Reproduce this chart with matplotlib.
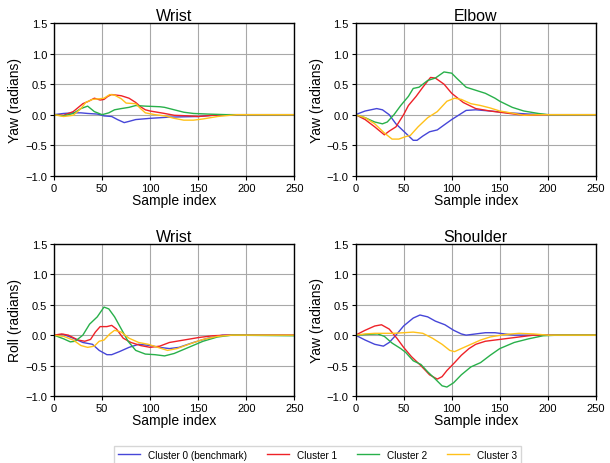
import matplotlib
matplotlib.use("Agg")
import matplotlib.pyplot as plt

plt.rcParams["font.family"] = ["Liberation Sans", "DejaVu Sans"]

cluster_names = ["Cluster 0 (benchmark)", "Cluster 1", "Cluster 2", "Cluster 3"]
cluster_colors = ["#4646d8", "#ee2228", "#28b04a", "#ffc11a"]

panel_titles = ["Wrist", "Elbow", "Wrist", "Shoulder"]
panel_ylabels = ["Yaw (radians)", "Yaw (radians)", "Roll (radians)", "Yaw (radians)"]

# ---- Wrist yaw (top left) ----
wrist_yaw_c0 = [(0, 0), (10, 0.02), (20, 0.03), (28, 0.03), (35, 0.02), (45, 0.01),
                (52, -0.02), (60, -0.03), (66, -0.08), (73, -0.13), (78, -0.11),
                (85, -0.08), (100, -0.06), (120, -0.04), (150, -0.03), (165, -0.01),
                (180, 0), (250, 0)]
wrist_yaw_c1 = [(0, 0), (10, -0.01), (20, 0.05), (30, 0.18), (36, 0.22), (42, 0.27),
                (48, 0.24), (52, 0.25), (56, 0.3), (60, 0.33), (65, 0.32), (70, 0.31),
                (78, 0.27), (85, 0.2), (90, 0.13), (95, 0.08), (100, 0.06), (115, 0.02),
                (125, -0.01), (140, -0.02), (150, -0.03), (165, -0.01), (180, 0), (250, 0)]
wrist_yaw_c2 = [(0, 0), (10, -0.02), (20, 0.02), (28, 0.1), (35, 0.14), (42, 0.05),
                (50, 0.0), (57, 0.03), (63, 0.08), (70, 0.1), (78, 0.12), (85, 0.15),
                (95, 0.14), (110, 0.13), (115, 0.12), (125, 0.08), (135, 0.04),
                (145, 0.02), (160, 0.01), (180, 0), (250, 0)]
wrist_yaw_c3 = [(0, 0), (10, -0.03), (20, -0.01), (28, 0.1), (33, 0.2), (40, 0.25),
                (47, 0.26), (52, 0.27), (58, 0.33), (63, 0.32), (70, 0.26), (75, 0.19),
                (85, 0.18), (90, 0.1), (95, 0.03), (105, 0.0), (115, -0.02), (125, -0.06),
                (135, -0.09), (145, -0.09), (155, -0.07), (170, -0.03), (190, 0), (250, 0)]

# ---- Elbow yaw (top right) ----
elbow_yaw_c0 = [(0, 0), (10, 0.06), (22, 0.1), (28, 0.08), (35, 0.0), (42, -0.15),
                (52, -0.3), (60, -0.42), (64, -0.42), (70, -0.35), (77, -0.28),
                (85, -0.25), (92, -0.17), (100, -0.08), (108, 0.0), (115, 0.07),
                (125, 0.08), (140, 0.06), (160, 0.03), (180, 0.01), (200, 0), (250, 0)]
elbow_yaw_c1 = [(0, 0), (10, -0.08), (20, -0.2), (30, -0.33), (35, -0.27), (42, -0.2),
                (50, 0.0), (55, 0.15), (63, 0.3), (70, 0.45), (78, 0.61), (83, 0.6),
                (92, 0.5), (100, 0.35), (112, 0.2), (125, 0.1), (140, 0.06), (155, 0.03),
                (170, 0.0), (180, -0.01), (195, 0), (250, 0)]
elbow_yaw_c2 = [(0, 0), (10, -0.05), (20, -0.12), (28, -0.15), (33, -0.12), (40, 0.0),
                (47, 0.15), (55, 0.3), (60, 0.43), (66, 0.45), (75, 0.56), (83, 0.6),
                (92, 0.7), (100, 0.68), (105, 0.6), (115, 0.45), (125, 0.4),
                (135, 0.35), (145, 0.27), (150, 0.22), (163, 0.12), (175, 0.06),
                (190, 0.02), (200, 0), (250, 0)]
elbow_yaw_c3 = [(0, 0), (10, -0.05), (20, -0.15), (30, -0.3), (38, -0.4), (45, -0.4),
                (52, -0.36), (57, -0.34), (65, -0.2), (75, -0.05), (85, 0.05),
                (95, 0.22), (103, 0.27), (110, 0.25), (120, 0.18), (130, 0.15),
                (140, 0.11), (150, 0.06), (165, 0.02), (175, -0.01), (190, 0), (250, 0)]

# ---- Wrist roll (bottom left) ----
wrist_roll_c0 = [(0, 0), (10, 0.01), (20, -0.05), (30, -0.12), (40, -0.15), (47, -0.25),
                 (55, -0.32), (60, -0.32), (68, -0.27), (78, -0.2), (88, -0.15),
                 (100, -0.17), (110, -0.2), (120, -0.22), (130, -0.2), (145, -0.12),
                 (160, -0.05), (175, 0), (250, 0)]
wrist_roll_c1 = [(0, 0), (8, 0.02), (15, 0.0), (25, -0.08), (32, -0.1), (38, -0.07),
                 (43, 0.05), (48, 0.14), (55, 0.14), (60, 0.16), (65, 0.1), (72, -0.05),
                 (80, -0.12), (90, -0.17), (100, -0.2), (110, -0.18), (120, -0.12),
                 (135, -0.08), (150, -0.04), (165, -0.01), (180, 0), (250, 0)]
wrist_roll_c2 = [(0, 0), (10, -0.06), (17, -0.11), (22, -0.1), (30, 0.0), (37, 0.18),
                 (45, 0.3), (52, 0.46), (57, 0.43), (63, 0.3), (70, 0.1), (77, -0.1),
                 (85, -0.25), (95, -0.31), (105, -0.32), (115, -0.34), (125, -0.3),
                 (140, -0.2), (155, -0.1), (170, -0.03), (185, 0), (250, -0.01)]
wrist_roll_c3 = [(0, 0), (10, -0.02), (20, -0.08), (28, -0.17), (35, -0.2), (42, -0.18),
                 (47, -0.1), (52, -0.08), (58, 0.02), (63, 0.08), (70, 0.05), (78, -0.05),
                 (88, -0.12), (98, -0.15), (108, -0.2), (118, -0.25), (128, -0.22),
                 (140, -0.15), (155, -0.07), (170, -0.02), (185, 0), (250, 0)]

# ---- Shoulder yaw (bottom right) ----
shoulder_yaw_c0 = [(0, 0), (10, -0.08), (20, -0.15), (29, -0.18), (35, -0.12), (42, 0.0),
                   (50, 0.15), (60, 0.28), (67, 0.33), (75, 0.3), (83, 0.23), (93, 0.17),
                   (102, 0.08), (110, 0.02), (115, 0.0), (125, 0.02), (135, 0.04),
                   (145, 0.04), (155, 0.02), (165, 0), (250, 0)]
shoulder_yaw_c1 = [(0, 0), (10, 0.08), (20, 0.15), (27, 0.17), (35, 0.1), (43, -0.05),
                   (50, -0.2), (58, -0.35), (68, -0.5), (77, -0.65), (85, -0.72),
                   (90, -0.68), (95, -0.58), (103, -0.45), (110, -0.33), (118, -0.22),
                   (125, -0.15), (135, -0.1), (145, -0.08), (155, -0.06), (170, -0.03),
                   (185, 0), (250, 0)]
shoulder_yaw_c2 = [(0, 0), (10, 0.01), (23, 0.02), (30, -0.02), (38, -0.13), (47, -0.22),
                   (52, -0.28), (60, -0.42), (68, -0.48), (75, -0.6), (83, -0.72),
                   (90, -0.83), (95, -0.85), (102, -0.78), (110, -0.65), (120, -0.52),
                   (130, -0.45), (140, -0.33), (150, -0.22), (165, -0.12), (180, -0.06),
                   (195, -0.01), (210, 0), (250, 0)]
shoulder_yaw_c3 = [(0, 0), (10, 0.02), (20, 0.03), (30, 0.03), (40, 0.03), (50, 0.04),
                   (60, 0.05), (70, 0.03), (80, -0.05), (90, -0.15), (98, -0.25),
                   (103, -0.27), (110, -0.22), (120, -0.15), (130, -0.08), (140, -0.03),
                   (155, 0.01), (170, 0.03), (185, 0.02), (200, 0), (250, 0)]

panel_series = [
    [wrist_yaw_c0, wrist_yaw_c1, wrist_yaw_c2, wrist_yaw_c3],
    [elbow_yaw_c0, elbow_yaw_c1, elbow_yaw_c2, elbow_yaw_c3],
    [wrist_roll_c0, wrist_roll_c1, wrist_roll_c2, wrist_roll_c3],
    [shoulder_yaw_c0, shoulder_yaw_c1, shoulder_yaw_c2, shoulder_yaw_c3],
]

fig, axes = plt.subplots(2, 2, figsize=(6.1, 4.64), dpi=100)
fig.subplots_adjust(left=0.0885, right=0.977, top=0.948, bottom=0.144,
                    wspace=0.254, hspace=0.445)

for ax, title, ylabel, series in zip(axes.flat, panel_titles, panel_ylabels, panel_series):
    for pts, name, color in zip(series, cluster_names, cluster_colors):
        xs = [p[0] for p in pts]
        ys = [p[1] for p in pts]
        ax.plot(xs, ys, color=color, linewidth=1.0, label=name)

    ax.set_xlim(0, 250)
    ax.set_ylim(-1.0, 1.5)
    ax.set_xticks([0, 50, 100, 150, 200, 250])
    ax.set_yticks([-1.0, -0.5, 0.0, 0.5, 1.0, 1.5])
    ax.grid(True, color="#a8a8a8", linewidth=0.8)
    ax.set_axisbelow(True)
    ax.tick_params(labelsize=8, length=3, width=0.8, pad=2)
    ax.set_title(title, fontsize=11.5, pad=2)
    ax.set_xlabel("Sample index", fontsize=10, labelpad=0)
    ax.set_ylabel(ylabel, fontsize=10, labelpad=2)
    for spine in ax.spines.values():
        spine.set_linewidth(1.0)

handles, labels = axes[0, 0].get_legend_handles_labels()
fig.legend(handles, labels, loc="upper center", bbox_to_anchor=(0.52, 0.037),
           borderaxespad=0, ncol=4, fontsize=7.2, frameon=True, edgecolor="#cccccc",
           fancybox=False, handlelength=2.2, columnspacing=2.0)

fig.savefig("out.png", dpi=100)
